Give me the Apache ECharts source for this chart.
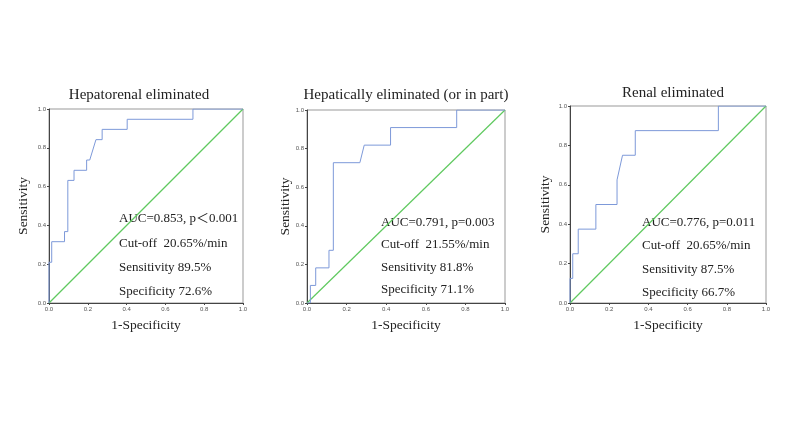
<!DOCTYPE html>
<html>
<head>
<meta charset="utf-8">
<script src="https://cdn.jsdelivr.net/npm/echarts@6/dist/echarts.min.js"></script>
<style>
html, body { margin: 0; padding: 0; background: #fff; }
#chart { width: 794px; height: 447px; }
</style>
</head>
<body>
<div id="chart"></div>
<script>
// panel titles
var titles = ['Hepatorenal eliminated', 'Hepatically eliminated (or in part)', 'Renal eliminated'];

// ROC curves, [1-specificity, sensitivity]
var rocHepatorenal = [[0, 0], [0, 0.21], [0.014, 0.21], [0.014, 0.316], [0.08, 0.316], [0.08, 0.368],
  [0.097, 0.368], [0.097, 0.632], [0.129, 0.632], [0.129, 0.684], [0.194, 0.684], [0.194, 0.737],
  [0.21, 0.737], [0.242, 0.842], [0.274, 0.842], [0.274, 0.895], [0.403, 0.895], [0.403, 0.947],
  [0.742, 0.947], [0.742, 1], [1, 1]];
var rocHepatic = [[0, 0], [0.017, 0], [0.017, 0.091], [0.044, 0.091], [0.044, 0.182], [0.111, 0.182],
  [0.111, 0.273], [0.133, 0.273], [0.133, 0.727], [0.267, 0.727], [0.289, 0.818], [0.422, 0.818],
  [0.422, 0.909], [0.756, 0.909], [0.756, 1], [1, 1]];
var rocRenal = [[0, 0], [0, 0.125], [0.014, 0.125], [0.014, 0.25], [0.042, 0.25], [0.042, 0.375],
  [0.132, 0.375], [0.132, 0.5], [0.24, 0.5], [0.24, 0.625], [0.25, 0.625], [0.268, 0.75],
  [0.333, 0.75], [0.333, 0.875], [0.757, 0.875], [0.757, 1], [1, 1]];
var refLine = [[0, 0], [1, 1]];

// annotation lines
var statsHepatorenal = ['AUC=0.853, p\uFF1C0.001', 'Cut-off  20.65%/min', 'Sensitivity 89.5%', 'Specificity 72.6%'];
var statsHepatic = ['AUC=0.791, p=0.003', 'Cut-off  21.55%/min', 'Sensitivity 81.8%', 'Specificity 71.1%'];
var statsRenal = ['AUC=0.776, p=0.011', 'Cut-off  20.65%/min', 'Sensitivity 87.5%', 'Specificity 66.7%'];

var curves = [rocHepatorenal, rocHepatic, rocRenal];
var stats = [statsHepatorenal, statsHepatic, statsRenal];

// layout
var grids = [
  { left: 49, top: 109, width: 194, height: 194 },
  { left: 307, top: 110, width: 198, height: 193 },
  { left: 570, top: 106, width: 196, height: 197 }
];
var titlePos = [[139, 95], [406, 95], [673, 93]];
var yNameGap = [19, 12, 18];
var statX = [119, 381, 642];
var statY = [[219, 244, 268, 292], [223, 245, 268, 290], [223, 246, 270, 293]];

var serif = "'Liberation Serif', 'Times New Roman', 'Noto Sans CJK SC', serif";

var chart = echarts.init(document.getElementById('chart'));

var xAxes = [], yAxes = [], series = [], graphics = [];
for (var i = 0; i < 3; i++) {
  var base = {
    type: 'value', min: 0, max: 1, interval: 0.2, gridIndex: i,
    nameLocation: 'middle',
    nameTextStyle: { fontFamily: serif, fontSize: 13.5, color: '#222' },
    axisLine: { show: true, lineStyle: { color: '#444', width: 1 } },
    axisTick: { show: true, length: 2, lineStyle: { color: '#444' } },
    axisLabel: { fontSize: 6, color: '#555', margin: 3, fontFamily: 'Liberation Sans',
      formatter: function (v) { return v.toFixed(1); } },
    splitLine: { show: false }
  };
  xAxes.push(Object.assign({}, base, { name: '1-Specificity', nameGap: 16 }));
  yAxes.push(Object.assign({}, base, { name: 'Sensitivity', nameGap: yNameGap[i] }));
  series.push({
    type: 'line', xAxisIndex: i, yAxisIndex: i, data: refLine, showSymbol: false,
    lineStyle: { color: '#5fc95f', width: 1.2 }, silent: true
  });
  series.push({
    type: 'line', xAxisIndex: i, yAxisIndex: i, data: curves[i], showSymbol: false,
    lineStyle: { color: '#7d99d9', width: 1 }, silent: true
  });
  graphics.push({
    type: 'text', x: titlePos[i][0], y: titlePos[i][1],
    style: { text: titles[i], font: '15px ' + serif, fill: '#222', textAlign: 'center', textVerticalAlign: 'middle' }
  });
  for (var k = 0; k < 4; k++) {
    graphics.push({
      type: 'text', x: statX[i], y: statY[i][k],
      style: { text: stats[i][k], font: '13px ' + serif, fill: '#222', textAlign: 'left', textVerticalAlign: 'middle' }
    });
  }
}

var option = {
  animation: false,
  backgroundColor: '#fff',
  grid: grids.map(function (g) {
    return Object.assign({ show: true, borderColor: '#999', borderWidth: 1, backgroundColor: '#fff' }, g);
  }),
  xAxis: xAxes,
  yAxis: yAxes,
  series: series,
  graphic: graphics
};
chart.setOption(option);
window.onresize = function () {
  chart.resize();
};
</script>
</body>
</html>
